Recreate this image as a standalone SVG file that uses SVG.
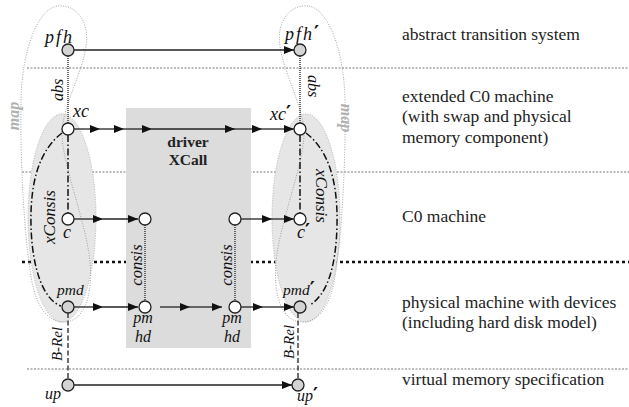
<svg xmlns="http://www.w3.org/2000/svg" width="629" height="407" viewBox="0 0 629 407">
<defs>
<marker id="ah" viewBox="0 0 10 8" refX="10" refY="4" markerWidth="10" markerHeight="8" markerUnits="userSpaceOnUse" orient="auto">
<path d="M0,0 L10,4 L0,8 Z" fill="#111"/>
</marker>
<style>
.sep{stroke:#555;stroke-width:0.8;stroke-dasharray:2,1.5;fill:none}
.thick{stroke:#111;stroke-width:2.5;stroke-dasharray:3,3;fill:none}
.arr{stroke:#222;stroke-width:1.3;fill:none;marker-end:url(#ah)}
.dot{stroke:#222;stroke-width:1.3;stroke-dasharray:1,1;fill:none}
.dash{stroke:#222;stroke-width:1.3;stroke-dasharray:5,2.5;fill:none}
.dd{stroke:#111;stroke-width:1.5;stroke-dasharray:7,2.5,1.5,2.5;fill:none}
.map{stroke:#999;stroke-width:0.9;stroke-dasharray:1,1.5;fill:none}
.ell{fill:#e6e6e6;stroke:#aaa;stroke-width:0.9;stroke-dasharray:1,1.5}
.nw{fill:#fff;stroke:#222;stroke-width:1.3}
.ng{fill:#d4d4d4;stroke:#222;stroke-width:1.3}
.m{font-family:"Liberation Serif",serif;font-style:italic;fill:#111}
.lab{font-family:"Liberation Serif",serif;font-size:17.5px;fill:#222}
.maplab{font-family:"Liberation Serif",serif;font-style:italic;font-weight:bold;font-size:16px;fill:#b0b0b0}
.bold{font-family:"Liberation Serif",serif;font-weight:bold;font-size:15.5px;fill:#222}
.pr{font-family:"DejaVu Sans",sans-serif;font-style:normal;font-weight:bold;font-size:19px}
</style>
</defs>

<g id="separators">
<line class="sep" x1="27" y1="68" x2="629" y2="68"/>
<line class="sep" x1="22" y1="172" x2="629" y2="172"/>
<line class="thick" x1="22" y1="262" x2="629" y2="262"/>
<line class="sep" x1="27" y1="369" x2="629" y2="369"/>
</g>

<g id="driver-box">
<rect x="126" y="108" width="125" height="240" fill="#dcdcdc"/>
<text class="bold" x="188" y="147" text-anchor="middle">driver</text>
<text class="bold" x="188" y="165" text-anchor="middle">XCall</text>
</g>

<g id="xconsis-left">
<ellipse class="ell" cx="62" cy="218" rx="34" ry="104"/>
</g>
<g id="xconsis-right">
<ellipse class="ell" cx="306" cy="218" rx="34" ry="104"/>
</g>

<g id="map-left">
<path class="map" d="M 58,6 C 76,4 90,22 86,46 C 83,70 66,100 62,128 C 60,160 86,220 90,262 C 93,295 84,322 64,322 C 44,322 34,300 30,270 C 24,230 20,160 21,100 C 22,50 38,8 58,6 Z"/>
<text class="maplab" transform="translate(19,116) rotate(-90)" text-anchor="middle">map</text>
</g>
<g id="map-right">
<path class="map" d="M 308,6 C 290,4 276,22 280,46 C 283,70 300,100 304,128 C 306,160 280,220 276,262 C 273,295 282,322 302,322 C 322,322 332,300 336,270 C 342,230 346,160 345,100 C 344,50 328,8 308,6 Z"/>
<text class="maplab" transform="translate(341,118) rotate(90)" text-anchor="middle">map</text>
</g>

<g id="connectors">
<line class="arr" x1="74" y1="50" x2="294" y2="50"/>
<line class="dot" x1="68" y1="56" x2="68" y2="123"/>
<line class="dot" x1="300" y1="56" x2="300" y2="123"/>
<polyline class="arr" points="74,129 100,129"/>
<polyline class="arr" points="100,129 124,129"/>
<polyline class="arr" points="124,129 152,129"/>
<polyline class="arr" points="152,129 235,129"/>
<polyline class="arr" points="235,129 262,129"/>
<polyline class="arr" points="262,129 294,129"/>
<line class="dd" x1="68" y1="135" x2="68" y2="213"/>
<line class="dd" x1="300" y1="135" x2="300" y2="213"/>
<path class="dd" d="M 62,133 C 40,150 30,180 31,225 C 32,270 44,300 61,306"/>
<path class="dd" d="M 306,133 C 328,150 338,180 337,225 C 336,270 326,295 310,305"/>
<polyline class="arr" points="74,219 103,219"/>
<polyline class="arr" points="103,219 138,219"/>
<polyline class="arr" points="241,219 272,219"/>
<polyline class="arr" points="272,219 294,219"/>
<line class="dot" x1="145" y1="225" x2="145" y2="301"/>
<line class="dot" x1="235" y1="225" x2="235" y2="301"/>
<polyline class="arr" points="74,307 103,307"/>
<polyline class="arr" points="103,307 138,307"/>
<polyline class="arr" points="160,307 190,307"/>
<polyline class="arr" points="190,307 222,307"/>
<polyline class="arr" points="241,307 263,307"/>
<polyline class="arr" points="263,307 294,307"/>
<line class="dash" x1="68" y1="313" x2="68" y2="379"/>
<line class="dash" x1="298" y1="313" x2="298" y2="379"/>
<line class="arr" x1="74" y1="385" x2="292" y2="385"/>
<text class="m" font-size="16" transform="translate(63,90) rotate(-90)" text-anchor="middle">abs</text>
<text class="m" font-size="16" transform="translate(308,86) rotate(90)" text-anchor="middle">abs</text>
<text class="m" font-size="17" transform="translate(55,217) rotate(-90)" text-anchor="middle">xConsis</text>
<text class="m" font-size="17" transform="translate(316,196) rotate(90)" text-anchor="middle">xConsis</text>
<text class="m" font-size="16.5" transform="translate(142,265) rotate(-90)" text-anchor="middle">consis</text>
<text class="m" font-size="16.5" transform="translate(232,265) rotate(-90)" text-anchor="middle">consis</text>
<text class="m" font-size="15" transform="translate(62,344) rotate(-90)" text-anchor="middle">B-Rel</text>
<text class="m" font-size="15" transform="translate(294,342) rotate(-90)" text-anchor="middle">B-Rel</text>
</g>

<g id="n-pfh"><circle class="ng" cx="68" cy="50" r="6"/><text class="m" font-size="18" x="45" y="43" letter-spacing="2">pfh</text></g>
<g id="n-pfh2"><circle class="ng" cx="300" cy="50" r="6"/><text class="m" font-size="18" x="285" y="40" letter-spacing="2">pfh<tspan class="pr" dy="-1">′</tspan></text></g>
<g id="n-xc"><circle class="nw" cx="68" cy="129" r="6"/><text class="m" font-size="18" x="73" y="117">xc</text></g>
<g id="n-xc2"><circle class="nw" cx="300" cy="129" r="6"/><text class="m" font-size="18" x="270" y="120">xc<tspan class="pr" dy="-1">′</tspan></text></g>
<g id="n-c"><circle class="nw" cx="68" cy="219" r="6"/><text class="m" font-size="18" x="63" y="238">c</text></g>
<g id="n-c2"><circle class="nw" cx="300" cy="219" r="6"/><text class="m" font-size="18" x="297" y="238">c<tspan class="pr" dy="-1">′</tspan></text></g>
<g id="n-a1"><circle class="nw" cx="145" cy="219" r="6"/></g>
<g id="n-a2"><circle class="nw" cx="235" cy="219" r="6"/></g>
<g id="n-pmd"><circle class="ng" cx="68" cy="307" r="6"/><text class="m" font-size="15.5" x="57" y="295">pmd</text></g>
<g id="n-pmd2"><circle class="ng" cx="300" cy="307" r="6"/><text class="m" font-size="15.5" x="283" y="295">pmd<tspan class="pr" dy="0">′</tspan></text></g>
<g id="n-b1"><circle class="nw" cx="145" cy="307" r="6"/><text class="m" font-size="16" x="143" y="323" text-anchor="middle">pm</text><text class="m" font-size="16" x="143" y="342" text-anchor="middle">hd</text></g>
<g id="n-b2"><circle class="nw" cx="235" cy="307" r="6"/><text class="m" font-size="16" x="232" y="323" text-anchor="middle">pm</text><text class="m" font-size="16" x="232" y="342" text-anchor="middle">hd</text></g>
<g id="n-up"><circle class="ng" cx="68" cy="385" r="6"/><text class="m" font-size="16" x="45" y="399">up</text></g>
<g id="n-up2"><circle class="ng" cx="298" cy="385" r="6"/><text class="m" font-size="16" x="297" y="401">up<tspan class="pr" dy="0">′</tspan></text></g>

<g id="layer-labels">
<text class="lab" x="402" y="40">abstract transition system</text>
<text class="lab" x="402" y="102">extended C0 machine</text>
<text class="lab" x="402" y="122">(with swap and physical</text>
<text class="lab" x="402" y="143">memory component)</text>
<text class="lab" x="402" y="222">C0 machine</text>
<text class="lab" x="402" y="308">physical machine with devices</text>
<text class="lab" x="402" y="328">(including hard disk model)</text>
<text class="lab" x="402" y="385">virtual memory specification</text>
</g>
</svg>
